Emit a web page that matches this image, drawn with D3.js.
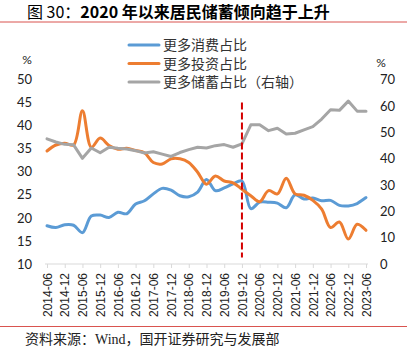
<!DOCTYPE html>
<html><head><meta charset="utf-8">
<script src="https://cdn.jsdelivr.net/npm/d3@7"></script>
<style>body{margin:0;background:#fff}svg{display:block}</style>
</head><body><svg id="c" width="407" height="357"></svg>
<script>
const categories = ["2014-06","2014-09","2014-12","2015-03","2015-06","2015-09","2015-12","2016-03","2016-06","2016-09","2016-12","2017-03","2017-06","2017-09","2017-12","2018-03","2018-06","2018-09","2018-12","2019-03","2019-06","2019-09","2019-12","2020-03","2020-06","2020-09","2020-12","2021-03","2021-06","2021-09","2021-12","2022-03","2022-06","2022-09","2022-12","2023-03","2023-06"];
const consumption = [18.3,17.9,18.5,18.4,16.8,20.4,20.6,20.1,21.2,20.9,23.0,23.7,25.2,26.4,26.0,24.8,24.6,25.6,28.3,25.9,26.5,27.4,28.0,22.0,23.4,23.4,23.2,22.2,25.0,24.1,24.3,23.7,23.8,22.7,22.6,23.1,24.4];
const investment = [34.5,35.8,36.2,35.8,43.2,35.3,37.3,35.7,34.9,35.1,34.6,34.1,32.0,31.7,32.8,32.8,32.0,29.9,27.3,29.1,28.0,27.6,26.2,24.8,23.5,25.9,25.2,28.6,25.2,24.9,23.8,21.9,17.9,19.1,15.4,18.6,17.3];
const savings = [47.5,46.3,45.4,45.2,40.1,44.0,42.2,44.3,43.9,43.6,43.0,42.1,42.6,41.7,40.8,42.3,43.4,44.3,44.0,44.9,45.3,44.3,45.6,52.8,52.8,50.6,51.5,49.3,49.6,50.9,52.1,55.0,58.5,58.3,61.8,58.0,58.0];
const leftTicks = [10,15,20,25,30,35,40,45,50];
const rightTicks = [0,10,20,30,40,50,60,70];
const xTickLabels = categories.filter((d,i)=>i%2===0);
const seriesNames = ["更多消费占比","更多投资占比","更多储蓄占比（右轴）"];
const seriesColors = ["#5B9BD5","#ED7D31","#A5A5A5"];
const markerCategory = "2019-12";
const markerRange = [11.4, 45];
const titleParts = ["图 30：", "2020 年以来居民储蓄倾向趋于上升"];
const sourceText = "资料来源：Wind，国开证券研究与发展部";

const svg = d3.select("#c");
const W = 407, H = 357;
const x = d3.scalePoint().domain(categories).range([47, 366]);
const yL = d3.scaleLinear().domain([10, 50]).range([264, 79.5]);
const yR = d3.scaleLinear().domain([0, 70]).range([264, 79.5]);

// title
const t = svg.append("text").attr("x", 27).attr("y", 18)
  .attr("font-family", "'Noto Sans CJK SC', sans-serif").attr("font-size", 16).attr("fill", "#000");
t.append("tspan").text(titleParts[0]);
t.append("tspan").attr("font-weight", "bold").text(titleParts[1]);
svg.append("line").attr("x1", 0).attr("x2", W).attr("y1", 22).attr("y2", 22)
  .attr("stroke", "#D9534F").attr("stroke-width", 1);

// left axis
const gl = svg.append("g").attr("transform", "translate(32,0)")
  .call(d3.axisLeft(yL).tickValues(leftTicks).tickSize(0).tickPadding(0));
gl.select(".domain").remove();
gl.selectAll("text").attr("font-family", "Lato, 'Liberation Sans', sans-serif").attr("font-size", 13).attr("fill", "#222");
svg.append("text").attr("x", 27).attr("y", 64).attr("text-anchor", "middle")
  .attr("font-family", "Lato, 'Liberation Sans', sans-serif").attr("font-size", 12).attr("fill", "#222").text("%");

// right axis
const gr = svg.append("g").attr("transform", "translate(380,0)")
  .call(d3.axisRight(yR).tickValues(rightTicks).tickSize(0).tickPadding(0));
gr.select(".domain").remove();
gr.selectAll("text").attr("font-family", "Lato, 'Liberation Sans', sans-serif").attr("font-size", 13).attr("fill", "#222");
svg.append("text").attr("x", 381).attr("y", 67).attr("text-anchor", "middle")
  .attr("font-family", "Lato, 'Liberation Sans', sans-serif").attr("font-size", 12).attr("fill", "#222").text("%");

// x axis
const gx = svg.append("g").attr("transform", `translate(0,${yL(10)})`)
  .call(d3.axisBottom(x).tickValues(xTickLabels).tickSize(4).tickSizeOuter(0));
gx.select(".domain").attr("stroke", "#D9D9D9").attr("d", `M${x(categories[0])-2},0H${x(categories[categories.length-1])+2}`);
gx.selectAll(".tick line").attr("stroke", "#D9D9D9");
gx.selectAll("text").attr("transform", "rotate(-90)").attr("x", -9).attr("y", 0).attr("dy", "0.35em")
  .attr("text-anchor", "end").attr("font-family", "'Liberation Sans', Arial, sans-serif").attr("font-size", 12).attr("fill", "#222");

// lines
const lineL = d3.line().x((d,i)=>x(categories[i])).y(d=>yL(d)).curve(d3.curveCatmullRom.alpha(0.5));
const lineR = d3.line().x((d,i)=>x(categories[i])).y(d=>yR(d));
[[consumption, lineL, 0],[investment, lineL, 1],[savings, lineR, 2]].forEach(([data, gen, k])=>{
  svg.append("path").datum(data).attr("d", gen).attr("fill", "none")
    .attr("stroke", seriesColors[k]).attr("stroke-width", 3)
    .attr("stroke-linejoin", "round").attr("stroke-linecap", "round");
});

// marker
svg.append("line").attr("x1", x(markerCategory)).attr("x2", x(markerCategory))
  .attr("y1", yL(markerRange[1])).attr("y2", yL(markerRange[0]))
  .attr("stroke", "#D40000").attr("stroke-width", 2).attr("stroke-dasharray", "7,3");

// legend
seriesNames.forEach((n,k)=>{
  const yy = 45 + k*18.5;
  svg.append("line").attr("x1", 129).attr("x2", 159).attr("y1", yy).attr("y2", yy)
    .attr("stroke", seriesColors[k]).attr("stroke-width", 3).attr("stroke-linecap", "round");
  svg.append("text").attr("x", 163).attr("y", yy).attr("dy", "0.36em")
    .attr("font-family", "'Noto Sans CJK SC', sans-serif").attr("font-size", 14).attr("fill", "#333").text(n);
});

// footer
svg.append("line").attr("x1", 0).attr("x2", W).attr("y1", 326.5).attr("y2", 326.5)
  .attr("stroke", "#D9534F").attr("stroke-width", 1);
svg.append("text").attr("x", 25).attr("y", 344)
  .attr("font-family", "'Liberation Serif', 'Noto Sans CJK SC', serif").attr("font-size", 14).attr("fill", "#222").text(sourceText);
</script></body></html>
